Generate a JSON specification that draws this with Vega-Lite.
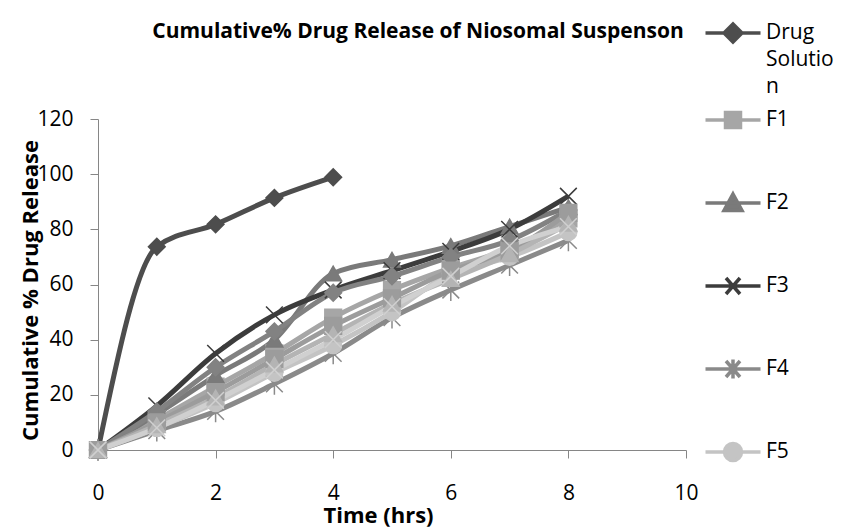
{
  "$schema": "https://vega.github.io/schema/vega-lite/v6.json",
  "width": 588,
  "height": 331,
  "autosize": {"type": "none"},
  "padding": {"left": 98, "top": 119, "right": 155, "bottom": 78},
  "background": "white",
  "config": {"view": {"stroke": null}, "font": "Open Sans", "style": {"guide-label": {"lineHeight": 27}}},
  "title": {"text": "Cumulative% Drug Release of Niosomal Suspenson", "fontSize": 21, "fontWeight": "bold", "color": "#000000", "font": "Open Sans", "anchor": "middle", "dx": 26, "dy": 32, "offset": 0},
  "data": {"values": [
    {"s": "Drug Solution", "t": 0, "r": 0}, {"s": "Drug Solution", "t": 1, "r": 73.7}, {"s": "Drug Solution", "t": 2, "r": 81.8}, {"s": "Drug Solution", "t": 3, "r": 91.4}, {"s": "Drug Solution", "t": 4, "r": 98.9},
    {"s": "F1", "t": 0, "r": 0}, {"s": "F1", "t": 1, "r": 11}, {"s": "F1", "t": 2, "r": 23}, {"s": "F1", "t": 3, "r": 35}, {"s": "F1", "t": 4, "r": 48}, {"s": "F1", "t": 5, "r": 58}, {"s": "F1", "t": 6, "r": 66}, {"s": "F1", "t": 7, "r": 73}, {"s": "F1", "t": 8, "r": 84},
    {"s": "F2", "t": 0, "r": 0}, {"s": "F2", "t": 1, "r": 13}, {"s": "F2", "t": 2, "r": 27}, {"s": "F2", "t": 3, "r": 40}, {"s": "F2", "t": 4, "r": 64}, {"s": "F2", "t": 5, "r": 69}, {"s": "F2", "t": 6, "r": 74}, {"s": "F2", "t": 7, "r": 81}, {"s": "F2", "t": 8, "r": 88},
    {"s": "F3", "t": 0, "r": 0}, {"s": "F3", "t": 1, "r": 16}, {"s": "F3", "t": 2, "r": 35}, {"s": "F3", "t": 3, "r": 49}, {"s": "F3", "t": 4, "r": 58}, {"s": "F3", "t": 5, "r": 65}, {"s": "F3", "t": 6, "r": 72}, {"s": "F3", "t": 7, "r": 80}, {"s": "F3", "t": 8, "r": 92},
    {"s": "F4", "t": 0, "r": 0}, {"s": "F4", "t": 1, "r": 7}, {"s": "F4", "t": 2, "r": 14}, {"s": "F4", "t": 3, "r": 24}, {"s": "F4", "t": 4, "r": 35}, {"s": "F4", "t": 5, "r": 48}, {"s": "F4", "t": 6, "r": 58}, {"s": "F4", "t": 7, "r": 67}, {"s": "F4", "t": 8, "r": 76},
    {"s": "F5", "t": 0, "r": 0}, {"s": "F5", "t": 1, "r": 8}, {"s": "F5", "t": 2, "r": 17}, {"s": "F5", "t": 3, "r": 28}, {"s": "F5", "t": 4, "r": 38}, {"s": "F5", "t": 5, "r": 50}, {"s": "F5", "t": 6, "r": 64}, {"s": "F5", "t": 7, "r": 70}, {"s": "F5", "t": 8, "r": 79},
    {"s": "F6", "t": 0, "r": 0}, {"s": "F6", "t": 1, "r": 14}, {"s": "F6", "t": 2, "r": 30}, {"s": "F6", "t": 3, "r": 43}, {"s": "F6", "t": 4, "r": 57}, {"s": "F6", "t": 5, "r": 63}, {"s": "F6", "t": 6, "r": 70}, {"s": "F6", "t": 7, "r": 76}, {"s": "F6", "t": 8, "r": 87},
    {"s": "F7", "t": 0, "r": 0}, {"s": "F7", "t": 1, "r": 10}, {"s": "F7", "t": 2, "r": 21}, {"s": "F7", "t": 3, "r": 33}, {"s": "F7", "t": 4, "r": 45}, {"s": "F7", "t": 5, "r": 55}, {"s": "F7", "t": 6, "r": 65}, {"s": "F7", "t": 7, "r": 72}, {"s": "F7", "t": 8, "r": 86},
    {"s": "F8", "t": 0, "r": 0}, {"s": "F8", "t": 1, "r": 9}, {"s": "F8", "t": 2, "r": 19}, {"s": "F8", "t": 3, "r": 31}, {"s": "F8", "t": 4, "r": 42}, {"s": "F8", "t": 5, "r": 53}, {"s": "F8", "t": 6, "r": 62}, {"s": "F8", "t": 7, "r": 71}, {"s": "F8", "t": 8, "r": 82},
    {"s": "F9", "t": 0, "r": 0}, {"s": "F9", "t": 1, "r": 8}, {"s": "F9", "t": 2, "r": 18}, {"s": "F9", "t": 3, "r": 29}, {"s": "F9", "t": 4, "r": 40}, {"s": "F9", "t": 5, "r": 52}, {"s": "F9", "t": 6, "r": 63}, {"s": "F9", "t": 7, "r": 74}, {"s": "F9", "t": 8, "r": 81}
  ]},
  "encoding": {
    "x": {"field": "t", "type": "quantitative", "scale": {"domain": [0, 10], "nice": false},
      "axis": {"values": [0, 2, 4, 6, 8, 10], "grid": false, "labelFlush": false, "domainColor": "#868686", "tickColor": "#868686", "tickSize": 8, "labelFontSize": 21, "labelColor": "#000000", "labelPadding": 24, "labelFont": "Open Sans", "title": "Time (hrs)", "titleFontSize": 22, "titleFontWeight": "bold", "titleColor": "#000000", "titleFont": "Open Sans", "titlePadding": 2, "titleX": 280}},
    "y": {"field": "r", "type": "quantitative", "scale": {"domain": [0, 120], "nice": false},
      "axis": {"values": [0, 20, 40, 60, 80, 100, 120], "grid": false, "labelFlush": false, "domainColor": "#868686", "tickColor": "#868686", "tickSize": 8, "labelFontSize": 21, "labelColor": "#000000", "labelPadding": 17, "labelFont": "Open Sans", "title": "Cumulative % Drug Release", "titleFontSize": 22, "titleFontWeight": "bold", "titleColor": "#000000", "titleFont": "Open Sans", "titleX": -68, "titleY": 171, "titleAlign": "center", "titleBaseline": "middle", "titleAngle": 270}}
  },
  "layer": [
    {"mark": {"type": "line", "interpolate": "monotone", "strokeWidth": 5},
      "encoding": {
        "color": {"field": "s", "type": "nominal", "legend": null,
          "scale": {"domain": ["Drug Solution", "F1", "F2", "F3", "F4", "F5", "F6", "F7", "F8", "F9"], "range": ["#4d4d4d", "#a6a6a6", "#7a7a7a", "#3c3c3c", "#8a8a8a", "#c4c4c4", "#828282", "#9c9c9c", "#b4b4b4", "#d0d0d0"]}}
      }},
    {"mark": {"type": "point", "filled": true, "size": 280, "strokeWidth": 1.5, "opacity": 1},
      "encoding": {
        "color": {"field": "s", "type": "nominal", "legend": null,
          "scale": {"domain": ["Drug Solution", "F1", "F2", "F3", "F4", "F5", "F6", "F7", "F8", "F9"], "range": ["#4d4d4d", "#a6a6a6", "#7a7a7a", "#3c3c3c", "#8a8a8a", "#c4c4c4", "#828282", "#9c9c9c", "#b4b4b4", "#d0d0d0"]}},
        "stroke": {"field": "s", "type": "nominal", "legend": null,
          "scale": {"domain": ["Drug Solution", "F1", "F2", "F3", "F4", "F5", "F6", "F7", "F8", "F9"], "range": ["#4d4d4d", "#a6a6a6", "#7a7a7a", "#3c3c3c", "#8a8a8a", "#c4c4c4", "#828282", "#9c9c9c", "#b4b4b4", "#d0d0d0"]}},
        "shape": {"field": "s", "type": "nominal", "legend": null,
          "scale": {"domain": ["Drug Solution", "F1", "F2", "F3", "F4", "F5", "F6", "F7", "F8", "F9"],
            "range": ["diamond", "square", "triangle-up", "M-1,-1L1,1M-1,1L1,-1", "M-1,-1L1,1M-1,1L1,-1M0,-1.3V1.3", "circle", "diamond", "square", "triangle-up", "M-1,-1L1,1M-1,1L1,-1"]}}
      }},
    {"transform": [{"filter": "datum.t < 0"}],
      "mark": {"type": "point", "filled": true, "size": 400, "strokeWidth": 3.5, "opacity": 1},
      "encoding": {
        "shape": {"field": "s", "type": "nominal",
          "scale": {"domain": ["Drug Solution", "F1", "F2", "F3", "F4", "F5", "F6", "F7", "F8", "F9"],
            "range": ["M-2.75,1.1H2.75M0,0.2L0.9,1.1L0,2L-0.9,1.1ZM0,-0.5M0,6.4", "M-2.75,1.1H2.75M-0.75,0.35H0.75V1.85H-0.75ZM0,-0.5M0,6.4", "M-2.75,1.1H2.75M0,0.2L0.9,1.85H-0.9ZM0,-0.5M0,6.4", "M-2.75,1.1H2.75M-0.7,0.3L0.7,1.9M-0.7,1.9L0.7,0.3M0,-0.5M0,6.4", "M-2.75,1.1H2.75M-0.7,0.3L0.7,1.9M-0.7,1.9L0.7,0.3M0,0.15V2.05M0,-0.5M0,6.4", "M-2.75,1.1H2.75M-0.85,1.1A0.85,0.85 0 1,0 0.85,1.1A0.85,0.85 0 1,0 -0.85,1.1ZM0,-0.5M0,6.4", "M-2.75,1.1H2.75", "M-2.75,1.1H2.75", "M-2.75,1.1H2.75", "M-2.75,1.1H2.75"]},
          "legend": {"values": ["Drug Solution", "F1", "F2", "F3", "F4", "F5"], "orient": "none", "legendX": 623, "legendY": -109, "title": null, "padding": 0, "rowPadding": 0, "symbolSize": 400, "symbolStrokeWidth": 3.5, "labelFontSize": 21, "labelFont": "Open Sans", "labelColor": "#000000", "labelOffset": 21, "labelLimit": 300, "labelBaseline": "top",
            "labelExpr": "datum.label == 'Drug Solution' ? ['Drug', 'Solutio', 'n'] : datum.label"}},
        "color": {"field": "s", "type": "nominal",
          "scale": {"domain": ["Drug Solution", "F1", "F2", "F3", "F4", "F5", "F6", "F7", "F8", "F9"], "range": ["#4d4d4d", "#a6a6a6", "#7a7a7a", "#3c3c3c", "#8a8a8a", "#c4c4c4", "#828282", "#9c9c9c", "#b4b4b4", "#d0d0d0"]},
          "legend": {"values": ["Drug Solution", "F1", "F2", "F3", "F4", "F5"], "orient": "none", "legendX": 623, "legendY": -109, "title": null, "padding": 0, "rowPadding": 0, "symbolSize": 400, "symbolStrokeWidth": 3.5, "labelFontSize": 21, "labelFont": "Open Sans", "labelColor": "#000000", "labelOffset": 21, "labelLimit": 300, "labelBaseline": "top",
            "labelExpr": "datum.label == 'Drug Solution' ? ['Drug', 'Solutio', 'n'] : datum.label"}},
        "stroke": {"field": "s", "type": "nominal",
          "scale": {"domain": ["Drug Solution", "F1", "F2", "F3", "F4", "F5", "F6", "F7", "F8", "F9"], "range": ["#4d4d4d", "#a6a6a6", "#7a7a7a", "#3c3c3c", "#8a8a8a", "#c4c4c4", "#828282", "#9c9c9c", "#b4b4b4", "#d0d0d0"]},
          "legend": {"values": ["Drug Solution", "F1", "F2", "F3", "F4", "F5"], "orient": "none", "legendX": 623, "legendY": -109, "title": null, "padding": 0, "rowPadding": 0, "symbolSize": 400, "symbolStrokeWidth": 3.5, "labelFontSize": 21, "labelFont": "Open Sans", "labelColor": "#000000", "labelOffset": 21, "labelLimit": 300, "labelBaseline": "top",
            "labelExpr": "datum.label == 'Drug Solution' ? ['Drug', 'Solutio', 'n'] : datum.label"}}
      }}
  ],
  "resolve": {"scale": {"shape": "independent", "color": "independent", "stroke": "independent"}}
}
